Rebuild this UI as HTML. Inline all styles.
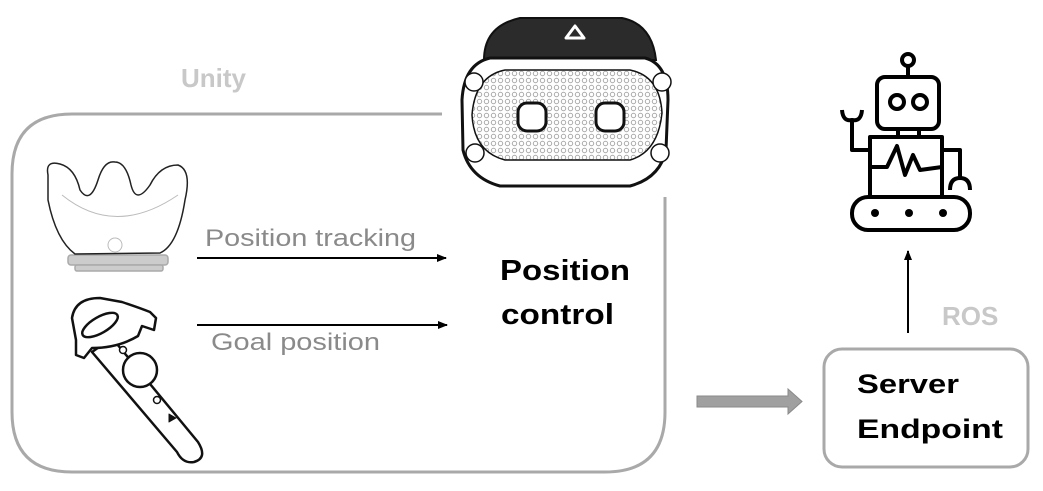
<!DOCTYPE html>
<html><head><style>body{margin:0;background:#fff}svg{display:block}</style></head>
<body>
<svg width="1043" height="491" viewBox="0 0 1043 491" xmlns="http://www.w3.org/2000/svg" font-family="Liberation Sans, sans-serif">
<defs>
<marker id="ah" markerWidth="10" markerHeight="10" refX="9" refY="5" orient="auto" markerUnits="userSpaceOnUse"><path d="M0,1 L10,5 L0,9 Z" fill="#000"/></marker>
<pattern id="dots" width="7" height="7" patternUnits="userSpaceOnUse"><circle cx="3.5" cy="3.5" r="2.2" fill="none" stroke="#aaa" stroke-width="1"/></pattern>
</defs>
<!-- Unity box -->
<path d="M442,114 L72,114 Q12,114 12,174 L12,412 Q12,472 72,472 L605,472 Q665,472 665,412 L665,197" fill="none" stroke="#a9a9a9" stroke-width="3"/>
<text x="181" y="87" font-size="26" font-weight="bold" fill="#c8c8c8">Unity</text>
<!-- headset -->
<g stroke="#111" fill="none">
<path d="M484,60 Q484,26 520,18 L622,18 Q652,24 656,60 Z" fill="#2b2b2b" stroke-width="2"/>
<path d="M566,38 L575,26 L584,38 Z" fill="#2b2b2b" stroke="#fff" stroke-width="3" stroke-linejoin="round"/>
<path d="M490,58 L645,58 Q668,64 668,100 L666,150 Q660,178 630,186 L500,186 Q470,178 463,150 L462,100 Q464,64 490,58 Z" fill="#fff" stroke-width="3"/>
<path d="M505,70 L630,70 Q660,76 662,113 Q658,152 630,160 L505,160 Q474,152 472,115 Q475,76 505,70 Z" fill="url(#dots)" stroke-width="1.5"/>
<circle cx="474" cy="82" r="9" fill="#fff" stroke-width="1.5"/>
<circle cx="662" cy="82" r="9" fill="#fff" stroke-width="1.5"/>
<circle cx="475" cy="153" r="9" fill="#fff" stroke-width="1.5"/>
<circle cx="660" cy="153" r="9" fill="#fff" stroke-width="1.5"/>
<rect x="518" y="103" width="28" height="28" rx="9" fill="#fff" stroke-width="3"/>
<rect x="596" y="103" width="28" height="28" rx="9" fill="#fff" stroke-width="3"/>
</g>
<!-- base station -->
<g fill="none" stroke="#222" stroke-width="1.5">
<rect x="68" y="255" width="100" height="10" rx="3" fill="#ccc" stroke="#aaa"/>
<rect x="75" y="265" width="88" height="6" rx="2" fill="#ccc" stroke="#aaa"/>
<path d="M48,175 Q45,160 60,164 Q75,168 80,190 Q90,205 98,180 Q104,160 115,162 Q126,162 131,185 Q136,205 150,185 Q160,165 178,165 Q192,170 185,200 Q178,245 160,253 L75,254 Q56,240 48,200 Z" fill="#fff"/>
<path d="M62,195 Q115,238 178,195" stroke="#bbb" stroke-width="1"/>
<circle cx="115" cy="245" r="7" stroke="#bbb" stroke-width="1"/>
</g>
<!-- controller -->
<g fill="#fff" stroke="#111" stroke-width="2.5" stroke-linejoin="round">
<path d="M112,338 L198,442 Q208,458 194,462 Q183,464 177,452 L92,352 Z"/>
<path d="M72,318 Q75,298 100,298 L122,302 Q140,308 150,312 L156,318 L154,330 L142,326 L138,336 Q118,348 92,348 L84,358 L76,355 L76,340 Z"/>
<ellipse cx="100" cy="325" rx="20" ry="8" transform="rotate(-30 100 325)" fill="#fff"/>
<circle cx="140" cy="370" r="17"/>
<circle cx="123" cy="350" r="3.5" stroke-width="1.5"/>
<circle cx="157" cy="400" r="3.5" stroke-width="1.5"/>
<path d="M169,414 L176,418 L169,422 Z" fill="#111" stroke-width="1"/>
</g>
<!-- arrows -->
<line x1="197" y1="258" x2="446" y2="258" stroke="#000" stroke-width="2" marker-end="url(#ah)"/>
<line x1="197" y1="325" x2="447" y2="325" stroke="#000" stroke-width="2" marker-end="url(#ah)"/>
<text x="205" y="246" font-size="24" fill="#8a8a8a" textLength="211" lengthAdjust="spacingAndGlyphs">Position tracking</text>
<text x="211" y="350" font-size="24" fill="#8a8a8a" textLength="169" lengthAdjust="spacingAndGlyphs">Goal position</text>
<text x="500" y="280" font-size="29" font-weight="bold" fill="#000" textLength="130" lengthAdjust="spacingAndGlyphs">Position</text>
<text x="501" y="324" font-size="29" font-weight="bold" fill="#000" textLength="113" lengthAdjust="spacingAndGlyphs">control</text>
<!-- gray arrow -->
<path d="M697,396 L788,396 L788,389 L802,401.5 L788,414 L788,407 L697,407 Z" fill="#a0a0a0" stroke="#8a8a8a" stroke-width="1"/>
<!-- ROS box -->
<rect x="824" y="349" width="204" height="118" rx="18" fill="#fff" stroke="#a9a9a9" stroke-width="3"/>
<text x="857" y="393" font-size="27" font-weight="bold" fill="#000" textLength="102" lengthAdjust="spacingAndGlyphs">Server</text>
<text x="857" y="438" font-size="27" font-weight="bold" fill="#000" textLength="146" lengthAdjust="spacingAndGlyphs">Endpoint</text>
<text x="942" y="325" font-size="26" font-weight="bold" fill="#c8c8c8">ROS</text>
<line x1="908" y1="333" x2="908" y2="251" stroke="#000" stroke-width="2" marker-end="url(#ah)"/>
<!-- robot -->
<g fill="none" stroke="#000" stroke-width="4" stroke-linejoin="round">
<circle cx="908" cy="60" r="6"/>
<line x1="908" y1="66" x2="908" y2="77"/>
<rect x="877" y="77" width="62" height="52" rx="8"/>
<circle cx="897" cy="102" r="7"/><circle cx="920" cy="102" r="7"/>
<line x1="898" y1="129" x2="898" y2="137"/><line x1="919" y1="129" x2="919" y2="137"/>
<rect x="870" y="137" width="72" height="60"/>
<path d="M870,167 L887,167 L897,146 L905,175 L913,155 L920,170 L942,167"/>
<path d="M870,150 L852,150 L852,120"/>
<path d="M842,110 Q843,122 852,120 Q861,122 862,110"/>
<path d="M942,150 L960,150 L960,180"/>
<path d="M950,190 Q950,178 960,178 Q970,178 970,190"/>
<rect x="852" y="197" width="118" height="33" rx="16"/>
</g>
<circle cx="875" cy="213" r="4"/><circle cx="909" cy="213" r="4"/><circle cx="943" cy="213" r="4"/>
</svg>
</body></html>
